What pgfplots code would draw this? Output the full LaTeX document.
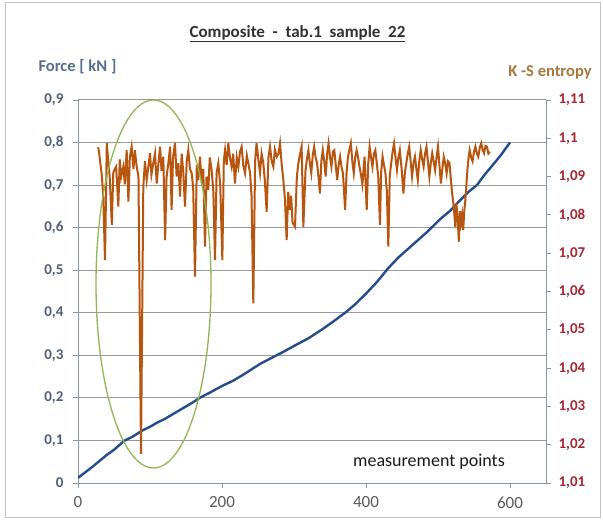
\documentclass[border=0pt]{standalone}
\usepackage{fontspec}
\setmainfont{Carlito}
\usepackage{pgfplots}
\pgfplotsset{compat=1.18}

\definecolor{blueline}{RGB}{38,76,140}
\definecolor{brownline}{RGB}{184,86,16}
\definecolor{ellgreen}{RGB}{145,182,85}
\definecolor{lefttick}{RGB}{80,95,125}
\definecolor{righttick}{RGB}{165,40,50}
\definecolor{forcecol}{RGB}{90,110,140}
\definecolor{kscol}{RGB}{170,120,60}
\definecolor{ticktext}{RGB}{90,90,90}
\definecolor{gridgray}{RGB}{155,155,155}
\definecolor{axisgray}{RGB}{135,150,165}
\definecolor{bordergray}{RGB}{195,195,195}
\definecolor{titlegray}{RGB}{50,50,50}

\begin{document}
\begin{tikzpicture}[x=1pt,y=1pt]
\useasboundingbox (0,0) rectangle (603,520);
\fill[white] (0,0) rectangle (603,520);
\draw[bordergray, line width=1pt] (5.5,2.5) rectangle (600.5,517);

% force (left axis)
\begin{axis}[
    at={(78pt,37pt)}, anchor=south west,
    scale only axis, width=468pt, height=383pt,
    xmin=0, xmax=650, ymin=0, ymax=0.9,
    axis x line*=bottom, axis y line*=left,
    axis line style={axisgray, line width=0.9pt, -},
    xtick={0,200,400,600},
    ytick={0,0.1,0.2,0.3,0.4,0.5,0.6,0.7,0.8,0.9},
    ymajorgrids, major grid style={gridgray, line width=1pt},
    tick align=outside, major tick length=5pt,
    tick style={axisgray, line width=0.9pt},
    xticklabel style={font=\fontsize{17}{17}\selectfont, text=ticktext, yshift=-5pt},
    yticklabel style={font=\fontsize{15}{15}\selectfont\bfseries, text=lefttick, xshift=-6pt},
    /pgf/number format/use comma,
    /pgf/number format/assume math mode=true,
  ]
  \addplot[blueline, line width=2.4pt] coordinates {
    (0,0.012) (10,0.025) (20,0.038) (30,0.052) (40,0.066) (50,0.078)
    (60,0.093) (65,0.100) (75,0.108) (90,0.124) (100,0.132) (110,0.142)
    (120,0.150) (135,0.165) (150,0.180) (160,0.190) (169,0.200) (185,0.214)
    (200,0.228) (215,0.240) (230,0.255) (253,0.280) (270,0.295) (285,0.308)
    (300,0.322) (320,0.340) (340,0.362) (355,0.380) (371,0.400) (385,0.420)
    (400,0.445) (415,0.472) (431,0.505) (445,0.530) (465,0.560) (485,0.590)
    (503,0.620) (517,0.640) (531,0.665) (543,0.685) (554,0.700) (565,0.725)
    (575,0.745) (588,0.772) (600,0.800)
  };
\end{axis}

% K-S entropy (right axis)
\begin{axis}[
    at={(78pt,37pt)}, anchor=south west,
    scale only axis, width=468pt, height=383pt,
    xmin=0, xmax=650, ymin=1.01, ymax=1.11,
    hide x axis, axis y line*=right,
    axis line style={axisgray, line width=0.9pt, -},
    ytick={1.01,1.02,1.03,1.04,1.05,1.06,1.07,1.08,1.09,1.1,1.11},
    tick align=outside, major tick length=5pt,
    tick style={axisgray, line width=0.9pt},
    yticklabel style={font=\fontsize{15}{15}\selectfont\bfseries, text=righttick, xshift=4pt},
    /pgf/number format/use comma,
    /pgf/number format/fixed,
    /pgf/number format/precision=2,
    /pgf/number format/assume math mode=true,
  ]
  \addplot[brownline, line width=2pt] coordinates {
    (28,1.0977) (29.5,1.0960) (31,1.0935) (33,1.0905) (35,1.0850) (37.5,1.0682) (40,1.0987) (42,1.0940) (44,1.0900)
    (47,1.0774) (49,1.0910) (51,1.0920) (53,1.0926) (56,1.0822) (58,1.0945) (60,1.0900) (63,1.0926)
    (65,1.0880) (67.6,1.0969) (70,1.0835) (72,1.0950) (74.5,1.0978) (77,1.0920) (79,1.0969) (81.5,1.0926) (84,1.0900)
    (87.5,1.0176) (90.7,1.0874) (93,1.0940) (95.4,1.0891) (98,1.0930) (100,1.0961) (102,1.0905) (104.6,1.0935) (107,1.0960) (109.3,1.0882)
    (112,1.0940) (114,1.0978) (116,1.0915) (118.5,1.0952) (121,1.0734) (123,1.0900) (125.5,1.0935) (128,1.0978) (130,1.0813)
    (132,1.0950) (134.7,1.0987) (137,1.0900) (139.4,1.0935) (141.7,1.0848) (144,1.0960) (146.3,1.0909) (148.6,1.0822) (151,1.0940) (153.2,1.0969)
    (155.5,1.0920) (157.9,1.0909) (160,1.0870) (162.5,1.0639) (165,1.0930) (167,1.0891) (169.4,1.0952) (172,1.0880) (174,1.0920) (176.4,1.0717) (178.5,1.0900) (181,1.0865)
    (183,1.0950) (185.6,1.0917) (188,1.0860) (190.3,1.0682) (192.5,1.0910) (194.9,1.0935) (197.5,1.0880) (200.5,1.0682) (202.5,1.0940) (204.2,1.0969) (206.5,1.0930) (208.8,1.0987)
    (211,1.0950) (213.4,1.0926) (215.5,1.0960) (218,1.0882) (220.5,1.0950) (222.7,1.0926) (225,1.0965) (227.3,1.0978) (229.5,1.0930) (232,1.0909) (234.5,1.0955) (236.6,1.0935)
    (239,1.0910) (241,1.0850) (243.5,1.0569) (246,1.0940) (248,1.0987) (250.5,1.0945) (252.8,1.0909) (255,1.0960) (257.4,1.0935) (259.5,1.0890) (262,1.0808) (264.5,1.0950) (266.7,1.0978)
    (269,1.0940) (271.3,1.0926) (273.5,1.0970) (276,1.0952) (278.5,1.0960) (280.6,1.0987) (283,1.0930) (285.2,1.0891) (287.5,1.0840) (289.8,1.0734) (292,1.0860) (294.4,1.0813)
    (296,1.0850) (298,1.0780) (301.4,1.0769) (304,1.0900) (306,1.0935) (308.5,1.0960) (310.6,1.0978) (313,1.0769) (316,1.0917) (318,1.0945)
    (320,1.0969) (322,1.0935) (324,1.0909) (326,1.0955) (328,1.0978) (330,1.0950) (332,1.0935) (334,1.0900) (336,1.0856) (338,1.0940) (340,1.0969)
    (342,1.0940) (344,1.0900) (346,1.0960) (348,1.0987) (350,1.0950) (352,1.0926) (354,1.0965) (356,1.0969) (358,1.0930) (360,1.0891) (362,1.0930) (364,1.0952)
    (366,1.0925) (368,1.0909) (371,1.0813) (373,1.0910) (375,1.0952) (377,1.0970) (379,1.0987) (381,1.0940) (383,1.0909) (385,1.0950) (387,1.0969)
    (389,1.0950) (391,1.0926) (393,1.0905) (395,1.0880) (398,1.0952) (401,1.0813) (403,1.0930) (405,1.0978) (407,1.0950) (409,1.0926) (411,1.0960)
    (413,1.0969) (415,1.0935) (417,1.0900) (419.4,1.0774) (421,1.0910) (423,1.0952) (425,1.0930) (427,1.0909) (429,1.0860) (431,1.0717)
    (433,1.0900) (435,1.0935) (437,1.0965) (439,1.0987) (441,1.0950) (443,1.0917) (445,1.0950) (447,1.0969) (449.5,1.0920) (452,1.0856) (454,1.0910) (456,1.0935)
    (458,1.0960) (460,1.0978) (462,1.0940) (464,1.0900) (466,1.0935) (468,1.0952) (470,1.0920) (472,1.0891) (474,1.0940) (476,1.0969) (478,1.0945) (480,1.0926)
    (482,1.0960) (484,1.0978) (486,1.0940) (488,1.0900) (490,1.0935) (492,1.0961) (494,1.0940) (496,1.0917) (498,1.0950) (500,1.0978) (502,1.0930) (504,1.0882)
    (506,1.0920) (508,1.0952) (510,1.0935) (512,1.0909) (514,1.0940) (516,1.0935) (518,1.0890) (520,1.0850) (522,1.0820) (524,1.0769) (525.5,1.0830) (527,1.0800)
    (529,1.0730) (530.5,1.0810) (532,1.0780) (533.5,1.0800) (535,1.0761) (536.5,1.0810) (538,1.0840) (539.5,1.0880) (541,1.0920) (542.5,1.0950) (544,1.0969) (546,1.0950)
    (548,1.0940) (550,1.0965) (552,1.0978) (554,1.0960) (556,1.0952) (558,1.0975) (560,1.0987) (562,1.0970) (564,1.0961) (566,1.0980) (568,1.0978) (570,1.0960)
    (572,1.0965)
  };
\end{axis}

\draw[ellgreen, line width=1.3pt] (153.5,236) ellipse [x radius=57.5, y radius=184];

\node[font=\fontsize{17}{17}\selectfont\bfseries, text=titlegray] at (297.5,486)
  {\underline{Composite \ - \ tab.1 \ sample \ 22}};
\node[font=\fontsize{16.5}{16.5}\selectfont\bfseries, text=forcecol] at (77.5,453) {Force [ kN ]};
\node[font=\fontsize{16.5}{16.5}\selectfont\bfseries, text=kscol] at (550,448) {K -S entropy};
\node[font=\fontsize{18}{18}\selectfont, text=black!90] at (429,58) {measurement points};
\end{tikzpicture}
\end{document}
